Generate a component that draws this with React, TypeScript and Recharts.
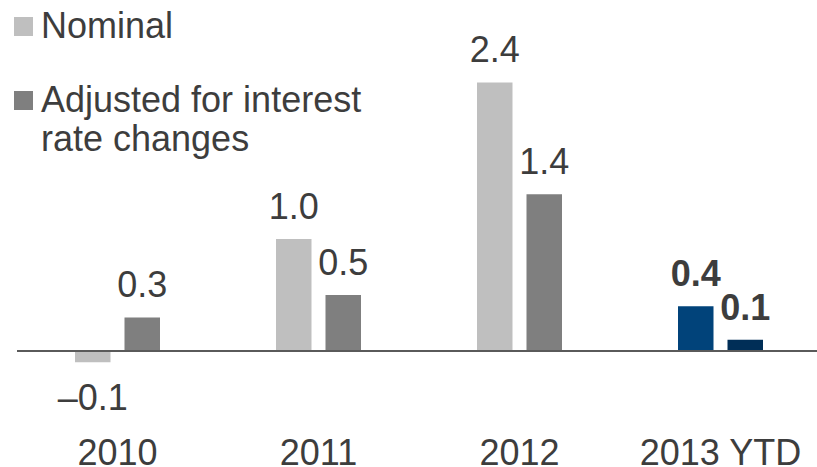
import React from 'react';
import { BarChart, Bar, XAxis, YAxis, Cell, LabelList, ReferenceLine } from 'recharts';

const categories = ['2010', '2011', '2012', '2013 YTD'];
const nominal = [-0.1, 1.0, 2.4, 0.4];
const adjusted = [0.3, 0.5, 1.4, 0.1];
const highlightIndex = 3;

const seriesNames = ['Nominal', 'Adjusted for interest rate changes'];
const seriesColors = ['#bfbfbf', '#7f7f7f'];
const highlightColors = ['#01437a', '#002e57'];

const TEXT = '#3d3d3d';
const FONT = '"Liberation Sans", Arial, Helvetica, sans-serif';

const data = categories.map((c, i) => ({ category: c, nominal: nominal[i], adjusted: adjusted[i] }));

const fmt = (v: number) => (v < 0 ? '\u2013' + Math.abs(v).toFixed(1) : v.toFixed(1));

const ValueLabel = (props: any) => {
  const { x, y, width, height, value, index } = props;
  const v = Number(value);
  const top = Math.min(y, y + height);
  const bottom = Math.max(y, y + height);
  const ty = v < 0 ? bottom + 48 : top - 20;
  return (
    <text
      x={x + width / 2}
      y={ty}
      textAnchor="middle"
      fontSize={36}
      fontFamily={FONT}
      fontWeight={index === highlightIndex ? 'bold' : 'normal'}
      fill={TEXT}
    >
      {fmt(v)}
    </text>
  );
};

const legendTops = [7, 81];

export default function App() {
  return (
    <div style={{ position: 'absolute', left: 0, top: 0, width: 817, height: 467, overflow: 'hidden', background: '#fff', fontFamily: FONT }}>
      <BarChart
        width={821}
        height={467}
        data={data}
        margin={{ top: 60, right: 0, left: 17, bottom: 0 }}
        barSize={35.5}
        barGap={14}
      >
        <YAxis hide domain={[-0.7, 2.6]} allowDataOverflow />
        <XAxis
          dataKey="category"
          axisLine={false}
          tickLine={false}
          tickSize={0}
          tickMargin={10}
          height={37.6}
          interval={0}
          tick={{ fontSize: 36, fill: TEXT, fontFamily: FONT }}
        />
        <Bar dataKey="nominal" name={seriesNames[0]} fill={seriesColors[0]} isAnimationActive={false}>
          {data.map((d, i) => (
            <Cell key={d.category} fill={i === highlightIndex ? highlightColors[0] : seriesColors[0]} />
          ))}
          <LabelList dataKey="nominal" content={<ValueLabel />} />
        </Bar>
        <Bar dataKey="adjusted" name={seriesNames[1]} fill={seriesColors[1]} isAnimationActive={false}>
          {data.map((d, i) => (
            <Cell key={d.category} fill={i === highlightIndex ? highlightColors[1] : seriesColors[1]} />
          ))}
          <LabelList dataKey="adjusted" content={<ValueLabel />} />
        </Bar>
        <ReferenceLine y={0} stroke="#5a5a5a" strokeWidth={2} />
      </BarChart>
      {seriesNames.map((name, i) => (
        <div
          key={name}
          style={{ position: 'absolute', left: 0, top: legendTops[i], display: 'flex', alignItems: 'flex-start' }}
        >
          <div style={{ width: 19, height: 19, marginLeft: 14, marginTop: 9.5, marginRight: 8, background: seriesColors[i], flex: 'none' }} />
          <div style={{ width: 345, fontSize: 36, lineHeight: '38.5px', color: TEXT, fontFamily: FONT }}>{name}</div>
        </div>
      ))}
    </div>
  );
}
